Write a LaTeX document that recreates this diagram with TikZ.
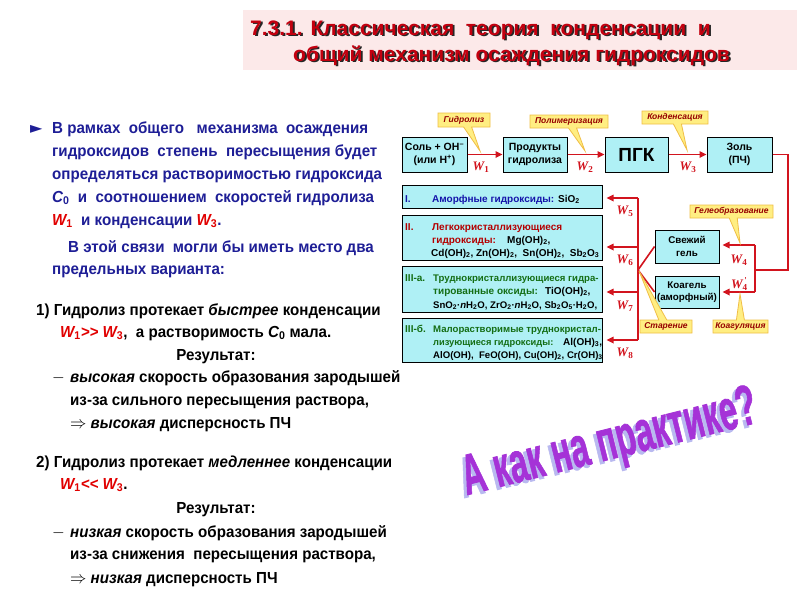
\documentclass[tikz,border=0pt]{standalone}
\usepackage{fontspec}
\setmainfont{Liberation Sans}
\newfontfamily\wfont{Liberation Serif}
\newfontfamily\djv{DejaVu Sans}
\newfontfamily\fatfont{Liberation Sans Bold}[FakeBold=1.5]
\usetikzlibrary{arrows.meta,shapes.callouts,shadows,calc}
\definecolor{titlered}{RGB}{195,0,15}
\definecolor{titlebg}{RGB}{252,233,233}
\definecolor{navy}{RGB}{30,30,150}
\definecolor{wred}{RGB}{225,0,0}
\definecolor{boxcyan}{RGB}{175,240,245}
\definecolor{arrred}{RGB}{210,20,30}
\definecolor{callfill}{RGB}{255,238,130}
\definecolor{calldraw}{RGB}{240,190,70}
\definecolor{calltext}{RGB}{150,0,0}
\definecolor{tblue}{RGB}{20,20,170}
\definecolor{tred}{RGB}{180,0,0}
\definecolor{tgreen}{RGB}{20,110,20}
\definecolor{purp}{RGB}{165,50,215}
\definecolor{purpsh}{RGB}{185,185,240}
\newcommand\Ws[1]{\textcolor{wred}{\itshape W\textsubscript{\upshape #1}}}
\newcommand\Cz{{\itshape C\textsubscript{\upshape 0}}}
\newcommand\Wd[1]{W\textsubscript{\upshape #1}}
\tikzset{
 ltext/.style={anchor=base west, inner sep=0, xscale=0.945, font=\fontsize{16}{19}\selectfont\bfseries},
 ttl/.style={anchor=base west, inner sep=0, font=\fontsize{21}{24}\selectfont\bfseries},
 flowbox/.style={draw=black, line width=1pt, fill=boxcyan, minimum height=35pt, inner sep=0, align=center,
   font=\fontsize{10.5}{12.5}\selectfont\bfseries,
   drop shadow={shadow xshift=1.2pt, shadow yshift=-1.2pt, fill=black!70, opacity=1}},
 typebox/.style={draw=black, line width=1pt, fill=boxcyan, minimum width=200pt, inner sep=0,
   drop shadow={shadow xshift=1.2pt, shadow yshift=-1.2pt, fill=black!70, opacity=1}},
 tline/.style={anchor=base west, inner sep=0, font=\fontsize{10}{11}\selectfont\bfseries},
 tlong/.style={anchor=base west, inner sep=0, font=\fontsize{9.6}{11}\selectfont\bfseries},
 flowarrow/.style={draw=arrred, line width=1.6pt, -{Triangle[length=7pt,width=6.5pt]}},
 redline/.style={draw=arrred, line width=1.6pt},
 wlab/.style={text=arrred, inner sep=0, font=\fontsize{13}{13}\selectfont\wfont\bfseries\itshape},
 callbox/.style={rectangle callout, fill=callfill, draw=calldraw, line width=0.8pt, inner sep=0pt,
   font=\fontsize{8.5}{9}\selectfont\bfseries\itshape, text=calltext, callout pointer width=8pt},
 slogan/.style={rotate=14, xscale=0.57, inner sep=0, font=\fontsize{57}{57}\fatfont}
}
\begin{document}
\begin{tikzpicture}[x=1pt,y=-1pt]
\useasboundingbox[fill=white] (0,0) rectangle (800,600);
% title
\fill[titlebg] (243,10) rectangle (797,70);
\node[ttl, text=black!85] (t1s) at (251.8,36.8) {7.3.1. Классическая\ \ теория\ \ конденсации\ \ и};
\node[ttl, text=black!85] (t2s) at (294.8,62.8) {общий\ механизм\ осаждения\ гидроксидов};
\node[ttl, text=titlered] (t1) at (250,35) {7.3.1. Классическая\ \ теория\ \ конденсации\ \ и};
\node[ttl, text=titlered] (t2) at (293,61) {общий\ механизм\ осаждения\ гидроксидов};

% left text
\node[anchor=base west, inner sep=0, text=navy, font=\djv\fontsize{16}{16}\selectfont] (bul) at (30,133) {►};
\node[ltext, text=navy] (l1) at (52,133) {В рамках\ \ общего\ \ \ механизма\ \ осаждения};
\node[ltext, text=navy] (l2) at (52,156) {гидроксидов\ \ степень\ \ пересыщения будет};
\node[ltext, text=navy] (l3) at (52,179) {определяться растворимостью гидроксида};
\node[ltext, text=navy] (l4) at (52,202) {\Cz\ \ и\ \ соотношением\ \ скоростей гидролиза};
\node[ltext, text=navy] (l5) at (52,225) {\Ws1\ \ и конденсации \Ws3.};
\node[ltext, text=navy] (l6) at (68,252) {В этой связи\ \ могли бы иметь место два};
\node[ltext, text=navy] (l7) at (52,274) {предельных варианта:};

\node[ltext] (s1a) at (36,315) {1) Гидролиз протекает \textit{быстрее} конденсации};
\node[ltext] (s1b) at (60,337) {\textcolor{wred}{\itshape W\textsubscript{\upshape 1}>{}> W\textsubscript{\upshape 3}},\ \ а растворимость \Cz\ мала.};
\node[ltext, anchor=base] (s1c) at (216,360) {Результат:};
\node[ltext] (s1d) at (52,382) {$-$};
\node[ltext] (s1e) at (70,382) {\textit{высокая} скорость образования зародышей};
\node[ltext] (s1f) at (70,405) {из-за сильного пересыщения раствора,};
\node[ltext] (s1g) at (70,428) {$\Rightarrow$ \textit{высокая} дисперсность ПЧ};

\node[ltext] (s2a) at (36,467) {2) Гидролиз протекает \textit{медленнее} конденсации};
\node[ltext] (s2b) at (60,489) {\textcolor{wred}{\itshape W\textsubscript{\upshape 1}<{}< W\textsubscript{\upshape 3}}.};
\node[ltext, anchor=base] (s2c) at (216,513) {Результат:};
\node[ltext] (s2d) at (52,537) {$-$};
\node[ltext] (s2e) at (70,537) {\textit{низкая} скорость образования зародышей};
\node[ltext] (s2f) at (70,559) {из-за снижения\ \ пересыщения раствора,};
\node[ltext] (s2g) at (70,583) {$\Rightarrow$ \textit{низкая} дисперсность ПЧ};

% top flow boxes
\node[flowbox, minimum width=65pt] (b1) at (434.5,154.5) {Соль + OH\textsuperscript{–}\\(или H\textsuperscript{+})};
\node[flowbox, minimum width=64pt] (b2) at (535,154.5) {Продукты\\гидролиза};
\node[flowbox, minimum width=63pt, font=\fontsize{19}{19}\selectfont\bfseries] (b3) at (636.5,154.5) {ПГК};
\node[flowbox, minimum width=65pt] (b4) at (739.5,154.5) {Золь\\(ПЧ)};
\draw[flowarrow] (b1.east) -- (b2.west);
\draw[flowarrow] (b2.east) -- (b3.west);
\draw[flowarrow] (b3.east) -- (b4.west);
\node[wlab] (w1) at (481,167) {\Wd1};
\node[wlab] (w2) at (585,167) {\Wd2};
\node[wlab] (w3) at (688,167) {\Wd3};

% callouts
\node[callbox, minimum width=52pt, minimum height=14pt, callout absolute pointer={(480,151)}] (c1) at (464,120) {Гидролиз};
\node[callbox, minimum width=78pt, minimum height=13pt, callout absolute pointer={(585,151)}] (c2) at (569,121.5) {Полимеризация};
\node[callbox, minimum width=66pt, minimum height=13pt, callout absolute pointer={(687,150)}] (c3) at (675,117.5) {Конденсация};

% gel boxes
\node[flowbox, minimum width=64pt, minimum height=33pt, font=\fontsize{9.8}{12.5}\selectfont\bfseries] (gel) at (687,246.5) {Свежий\\гель};
\node[flowbox, minimum width=64pt, minimum height=32pt, font=\fontsize{9.8}{12.5}\selectfont\bfseries] (koag) at (687,292) {Коагель\\(аморфный)};

% type boxes
\node[typebox, minimum height=23pt] (tI) at (502,196.5) {};
\node[typebox, minimum height=45pt] (tII) at (502,237.5) {};
\node[typebox, minimum height=46pt] (tIIIa) at (502,289) {};
\node[typebox, minimum height=44pt] (tIIIb) at (502,340) {};

\node[tline, text=tblue] (tIa) at (405,202) {I.};
\node[tline, text=tblue] (tIb) at (432,202) {Аморфные гидроксиды:};
\node[tline] (tIc) at (558,202) {SiO\textsubscript{2}};

\node[tline, text=tred] (tIIa) at (405,230) {II.};
\node[tline, text=tred] (tIIb) at (432,230) {Легкокристаллизующиеся};
\node[tline, text=tred] (tIIc) at (432,243) {гидроксиды:};
\node[tline] (tIId) at (507,243) {Mg(OH)\textsubscript{2},};
\node[tline] (tIIe) at (431,256) {Cd(OH)\textsubscript{2}, Zn(OH)\textsubscript{2},\ \ Sn(OH)\textsubscript{2},\ \ Sb\textsubscript{2}O\textsubscript{3}};

\node[tline, text=tgreen] (tIIIa1) at (405,281) {III-a.};
\node[tlong, text=tgreen] (tIIIa2) at (433,281) {Труднокристаллизующиеся гидра-};
\node[tline, text=tgreen] (tIIIa3) at (433,294) {тированные оксиды:};
\node[tline] (tIIIa4) at (545,294) {TiO(OH)\textsubscript{2},};
\node[tlong] (tIIIa5) at (433,308) {SnO\textsubscript{2}·\textit{n}H\textsubscript{2}O, ZrO\textsubscript{2}·\textit{n}H\textsubscript{2}O, Sb\textsubscript{2}O\textsubscript{5}·H\textsubscript{2}O,};

\node[tline, text=tgreen] (tIIIb1) at (405,332) {III-б.};
\node[tlong, text=tgreen] (tIIIb2) at (433,332) {Малорастворимые труднокристал-};
\node[tline, text=tgreen, font=\fontsize{9.3}{11}\selectfont\bfseries] (tIIIb3) at (433,345) {лизующиеся гидроксиды:};
\node[tline] (tIIIb4) at (563,345) {Al(OH)\textsubscript{3},};
\node[tlong] (tIIIb5) at (433,358) {AlO(OH),\ \ FeO(OH), Cu(OH)\textsubscript{2}, Cr(OH)\textsubscript{3}};

% right connector
\coordinate (rc1) at (788,155);
\coordinate (rc2) at (788,270);
\coordinate (rc3) at (755,270);
\coordinate (rv1) at (755,245);
\coordinate (rv2) at (755,292);
\draw[redline, line join=miter] (b4.east) -- (b4.east -| rc1) -- (rc2) -- (rc3);
\draw[redline] (rv1) -- (rv2);
\draw[flowarrow, shorten >=3pt] (rv1) -- (rv1 -| gel.east);
\draw[flowarrow, shorten >=3pt] (rv2) -- (rv2 -| koag.east);
\node[wlab] (w4) at (739,260) {\Wd4};
\node[wlab] (w4p) at (739,284) {W\textsubscript{\upshape 4}\kern-0.25em\raisebox{0.85ex}{\upshape\fontsize{9}{9}\selectfont\textquotesingle}};

% left connector
\coordinate (lv1) at (638,198);
\coordinate (lv2) at (638,340);
\coordinate (a6) at (638,247);
\coordinate (a7) at (638,292);
\coordinate (jn) at (638,270);
\draw[redline] (lv1) -- (lv2);
\draw[flowarrow, shorten >=4pt] (lv1) -- (lv1 -| tI.east);
\draw[flowarrow, shorten >=4pt] (a6) -- (a6 -| tII.east);
\draw[flowarrow, shorten >=4pt] (a7) -- (a7 -| tIIIa.east);
\draw[flowarrow, shorten >=4pt] (lv2) -- (lv2 -| tIIIb.east);
\draw[redline] (jn) -- (gel.west);
\draw[redline] (jn) -- (koag.west);
\node[wlab] (w5) at (625,211) {\Wd5};
\node[wlab] (w6) at (625,260) {\Wd6};
\node[wlab] (w7) at (625,306) {\Wd7};
\node[wlab] (w8) at (625,353) {\Wd8};

\node[callbox, minimum width=83pt, minimum height=13pt, callout absolute pointer={(740,243)}] (c4) at (731.5,211.5) {Гелеобразование};
\node[callbox, minimum width=55pt, minimum height=13pt, callout absolute pointer={(740,294)}] (c5) at (740.5,326.5) {Коагуляция};
\node[callbox, minimum width=52pt, minimum height=13pt, callout absolute pointer={(639,271)}] (c6) at (666,326.5) {Старение};

% rotated slogan
\node[slogan, text=purpsh] (aks) at (607,448) {А как на практике?};
\node[slogan, text=purp] (ak) at (610,445) {А как на практике?};
\end{tikzpicture}
\end{document}
